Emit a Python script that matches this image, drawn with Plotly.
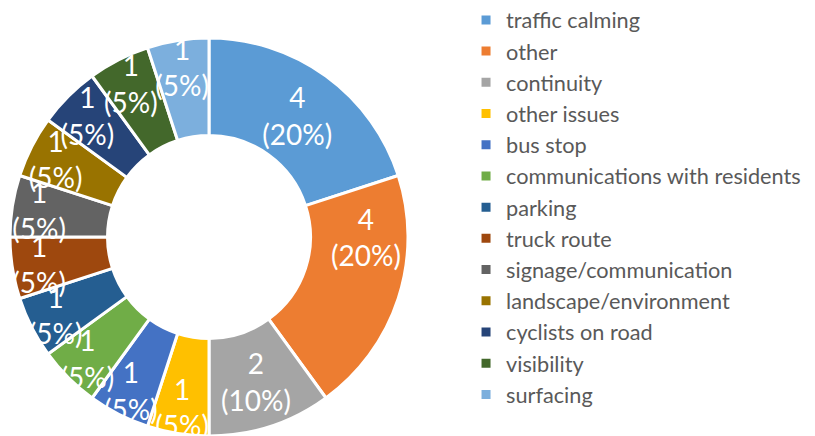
import plotly.graph_objects as go

categories = ["traffic calming", "other", "continuity", "other issues", "bus stop",
              "communications with residents", "parking", "truck route",
              "signage/communication", "landscape/environment", "cyclists on road",
              "visibility", "surfacing"]
values = [4, 4, 2, 1, 1, 1, 1, 1, 1, 1, 1, 1, 1]
colors = ["#5B9BD5", "#ED7D31", "#A5A5A5", "#FFC000", "#4472C4", "#70AD47",
          "#255E91", "#9E480E", "#636363", "#997300", "#264478", "#43682B", "#7CAFDD"]

fig = go.Figure(go.Pie(
    labels=categories, values=values, sort=False, direction="clockwise", rotation=0,
    hole=0.51,
    marker=dict(colors=colors, line=dict(color="white", width=3)),
    texttemplate="%{value}<br>(%{percent:.0%})",
    textposition="inside", insidetextorientation="horizontal",
    textfont=dict(family="Lato", size=28, color="white"),
    domain=dict(x=[2/815, 400/815], y=[8/436, 1-30/436]),
))
fig.update_layout(
    width=815, height=436, margin=dict(l=0, r=0, t=0, b=0, autoexpand=False),
    paper_bgcolor="white", plot_bgcolor="white",
    uniformtext=dict(minsize=28, mode="show"),
    legend=dict(x=0.562, y=1.02, xanchor="left", yanchor="top",
                font=dict(family="Lato", size=21.7, color="#595959"),
                tracegroupgap=0, itemwidth=30, maxheight=1000),
)
fig.write_html("out.html")
